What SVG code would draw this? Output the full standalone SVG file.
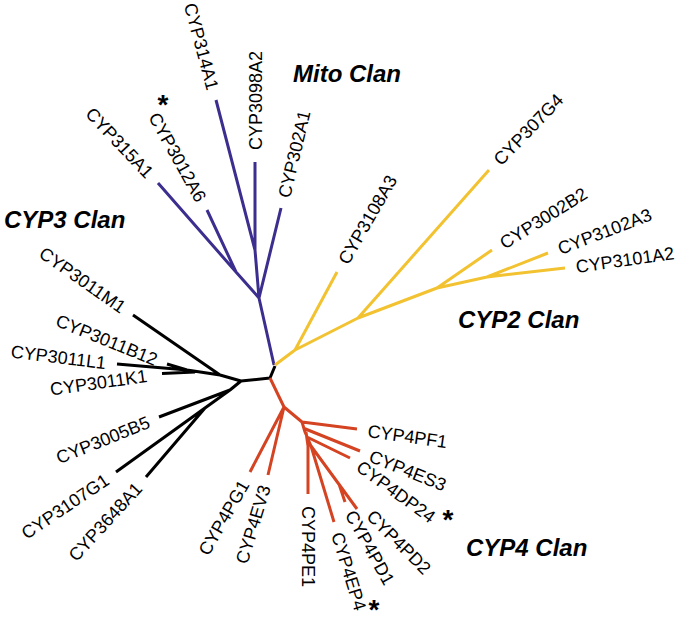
<svg xmlns="http://www.w3.org/2000/svg" width="677" height="635" viewBox="0 0 677 635">
<style>
.lbl{font-family:"Liberation Sans",Arial,sans-serif;font-size:18px;fill:#000}
.clan{font-family:"Liberation Sans",Arial,sans-serif;font-size:24px;font-weight:bold;font-style:italic;fill:#000}
.ast{font-family:"Liberation Sans",Arial,sans-serif;font-size:28px;font-weight:bold;fill:#000;text-anchor:middle}
.e{text-anchor:end}
.br{fill:none;stroke-width:3;stroke-linecap:butt;stroke-linejoin:round}
.p{stroke:#3b2e8e}.y{stroke:#f2c230}.k{stroke:#000}.r{stroke:#d44322}
</style>
<rect width="677" height="635" fill="#fff"/>
<g id="connectors" class="br">
<path class="p" d="M274,365 L259,298 L281,208 M259,298 L255,250 L255,162 M255,250 L216,100 M259,298 L236,272 L158,183 M236,272 L207,210"/>
<path class="y" d="M275,365 L295,350 L337,272 M295,350 L358,318 L489,170 M358,318 L437,288 L492,250 M437,288 L487,277 L565,268 M487,277 L548,253"/>
<path class="k" d="M270,378 L275,366 M270,378 L241,381 L220,375 L133,315 M220,375 L187,370 L117,364 M187,370 L167,364 M195,372 L162,373.5 M241,381 L230,390 L159,417 M230,390 L116,472 M205,408 L146,477"/>
<path class="r" d="M270,378 L284,407 L250,472 M284,407 L268,475 M284,407 L302,422 L357,429 M302,422 L305,432 M303,428 L360,451 M307,437 L350,458 M306,432 L308,446 L308,494 M305,432 L311,446 L334,522 M311,446 L357,509 M339,484 L345,502"/>
</g>
<g id="mito-clan"><text class="clan" x="293" y="82">Mito Clan</text></g>
<g id="cyp3-clan"><text class="clan" x="4" y="228">CYP3 Clan</text></g>
<g id="cyp2-clan"><text class="clan" x="458" y="328">CYP2 Clan</text></g>
<g id="cyp4-clan"><text class="clan" x="466" y="556">CYP4 Clan</text></g>

<g id="CYP314A1" transform="translate(213.2,89.4) rotate(75)"><text class="lbl e" y="6.5">CYP314A1</text></g>
<g id="CYP3012A6" transform="translate(201.7,200.4) rotate(61)"><text class="lbl e" y="6.5">CYP3012A6</text></g>
<g id="star1"><text class="ast" x="163" y="114">*</text></g>
<g id="CYP315A1" transform="translate(150.4,175) rotate(46.5)"><text class="lbl e" y="6.5">CYP315A1</text></g>
<g id="CYP3098A2" transform="translate(255,150) rotate(-90)"><text class="lbl" y="6.5">CYP3098A2</text></g>
<g id="CYP302A1" transform="translate(283.6,197.3) rotate(-76.5)"><text class="lbl" y="6.5">CYP302A1</text></g>

<g id="CYP3108A3" transform="translate(342.5,262.5) rotate(-60)"><text class="lbl" y="6.5">CYP3108A3</text></g>
<g id="CYP307G4" transform="translate(496.6,162.1) rotate(-46)"><text class="lbl" y="6.5">CYP307G4</text></g>
<g id="CYP3002B2" transform="translate(501.3,244.2) rotate(-32)"><text class="lbl" y="6.5">CYP3002B2</text></g>
<g id="CYP3102A3" transform="translate(558.3,249) rotate(-21)"><text class="lbl" y="6.5">CYP3102A3</text></g>
<g id="CYP3101A2" transform="translate(575.9,266.5) rotate(-8)"><text class="lbl" y="6.5">CYP3101A2</text></g>

<g id="CYP3011M1" transform="translate(124,308.7) rotate(35)"><text class="lbl e" y="6.5">CYP3011M1</text></g>
<g id="CYP3011B12" transform="translate(156.8,359.9) rotate(22)"><text class="lbl e" y="6.5">CYP3011B12</text></g>
<g id="CYP3011L1" transform="translate(106.1,362.7) rotate(7)"><text class="lbl e" y="6.5">CYP3011L1</text></g>
<g id="CYP3011K1" transform="translate(147,375.5) rotate(-8)"><text class="lbl e" y="6.5">CYP3011K1</text></g>
<g id="CYP3005B5" transform="translate(148.8,421.1) rotate(-22)"><text class="lbl e" y="6.5">CYP3005B5</text></g>
<g id="CYP3107G1" transform="translate(106.9,478.1) rotate(-34)"><text class="lbl e" y="6.5">CYP3107G1</text></g>
<g id="CYP3648A1" transform="translate(138.6,485.1) rotate(-47.5)"><text class="lbl e" y="6.5">CYP3648A1</text></g>

<g id="CYP4PG1" transform="translate(244.5,481.5) rotate(-60)"><text class="lbl e" y="6.5">CYP4PG1</text></g>
<g id="CYP4EV3" transform="translate(264.8,485.5) rotate(-73)"><text class="lbl e" y="6.5">CYP4EV3</text></g>
<g id="CYP4PE1" transform="translate(308,506) rotate(90)"><text class="lbl" y="6.5">CYP4PE1</text></g>
<g id="CYP4EP4" transform="translate(337.2,532.5) rotate(73)"><text class="lbl" y="6.5">CYP4EP4</text></g>
<g id="star3"><text class="ast" x="374" y="619">*</text></g>
<g id="CYP4PD1" transform="translate(350.3,511.6) rotate(61)"><text class="lbl" y="6.5">CYP4PD1</text></g>
<g id="CYP4PD2" transform="translate(370,513) rotate(45)"><text class="lbl" y="6.5">CYP4PD2</text></g>
<g id="CYP4DP24" transform="translate(358.9,464.5) rotate(36)"><text class="lbl" y="6.5">CYP4DP24</text></g>
<g id="star2"><text class="ast" x="448" y="529">*</text></g>
<g id="CYP4ES3" transform="translate(370.2,455.1) rotate(22)"><text class="lbl" y="6.5">CYP4ES3</text></g>
<g id="CYP4PF1" transform="translate(367.9,430.5) rotate(8)"><text class="lbl" y="6.5">CYP4PF1</text></g>
</svg>
